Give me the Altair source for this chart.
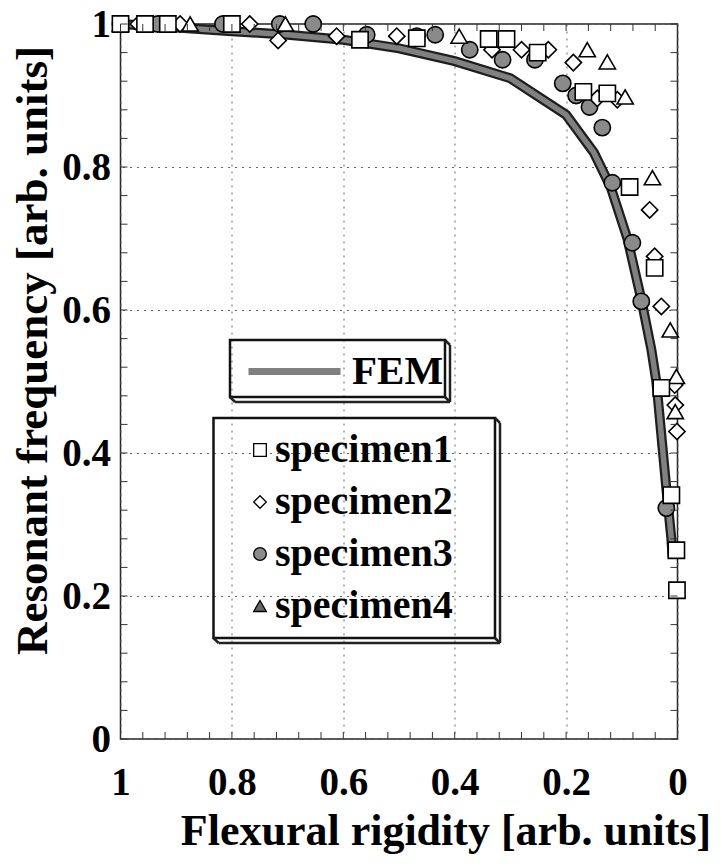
import altair as alt
import pandas as pd

# ---------------- data ----------------
fem_x = [1.0, 0.9, 0.8, 0.7, 0.6, 0.5, 0.4, 0.3, 0.2, 0.15, 0.12, 0.09, 0.065, 0.047, 0.038, 0.02, 0.011, 0.009]
fem_y = [1.0, 0.995, 0.99, 0.985, 0.978, 0.966, 0.948, 0.924, 0.873, 0.82, 0.772, 0.70, 0.615, 0.545, 0.50, 0.35, 0.28, 0.255]

s1_x = [1.0, 0.956, 0.915, 0.80, 0.57, 0.468, 0.339, 0.307, 0.251, 0.169, 0.126, 0.086, 0.041, 0.029, 0.011, 0.002, 0.001]
s1_y = [1.0, 1.0, 1.0, 1.0, 0.978, 0.98, 0.979, 0.979, 0.96, 0.905, 0.903, 0.772, 0.659, 0.491, 0.341, 0.264, 0.208]

s2_x = [0.968, 0.893, 0.768, 0.717, 0.612, 0.504, 0.333, 0.28, 0.232, 0.187, 0.144, 0.108, 0.05, 0.041, 0.029, 0.005, 0.004, 0.001]
s2_y = [1.0, 1.0, 1.0, 0.977, 0.983, 0.983, 0.964, 0.964, 0.964, 0.946, 0.896, 0.894, 0.74, 0.675, 0.605, 0.495, 0.467, 0.43]

s3_x = [1.0, 0.933, 0.816, 0.714, 0.654, 0.558, 0.468, 0.435, 0.373, 0.314, 0.256, 0.206, 0.182, 0.158, 0.135, 0.117, 0.081, 0.065, 0.02]
s3_y = [1.0, 1.0, 1.0, 1.0, 1.0, 0.985, 0.983, 0.985, 0.964, 0.95, 0.95, 0.917, 0.9, 0.884, 0.855, 0.778, 0.694, 0.612, 0.323]

s4_x = [1.0, 0.875, 0.704, 0.392, 0.162, 0.126, 0.094, 0.045, 0.013, 0.002, 0.004]
s4_y = [1.0, 1.0, 1.0, 0.983, 0.964, 0.947, 0.898, 0.785, 0.572, 0.507, 0.458]

specimens = ["specimen1", "specimen2", "specimen3", "specimen4"]
shapes = ["square", "diamond", "circle", "triangle-up"]
plot_fills = ["white", "white", "#8a8a8a", "white"]
legend_fills = ["white", "white", "#8a8a8a", "#666666"]
major_ticks = [0, 0.2, 0.4, 0.6, 0.8, 1.0]
minor_ticks = [0.0, 0.04, 0.08, 0.12, 0.16, 0.2, 0.24, 0.28, 0.32, 0.36, 0.4, 0.44, 0.48,
               0.52, 0.56, 0.6, 0.64, 0.68, 0.72, 0.76, 0.8, 0.84, 0.88, 0.92, 0.96, 1.0]

# ---------------- tables ----------------
fem = pd.DataFrame({"x": fem_x, "y": fem_y, "series": "FEM"})
pts = pd.concat([
    pd.DataFrame({"x": s3_x, "y": s3_y, "specimen": "specimen3"}),
    pd.DataFrame({"x": s2_x, "y": s2_y, "specimen": "specimen2"}),
    pd.DataFrame({"x": s4_x, "y": s4_y, "specimen": "specimen4"}),
    pd.DataFrame({"x": s1_x, "y": s1_y, "specimen": "specimen1"}),
], ignore_index=True)
ticks = pd.DataFrame({"t": minor_ticks})
one = alt.Data(values=[{"k": 0}])

# ---------------- styling ----------------
W, H = 557, 715
FONT = "Liberation Serif"

xs = alt.Scale(domain=[0, 1], reverse=True, nice=False, zero=False)
ys = alt.Scale(domain=[0, 1], nice=False, zero=False)

x_axis = alt.Axis(values=major_ticks, format="~g", grid=True, gridDash=[2, 5], gridColor="#666",
                  gridWidth=1, ticks=False, tickSize=0, domain=False, labelFont=FONT,
                  labelFontSize=39, labelFontWeight="bold", labelColor="black", labelPadding=24,
                  labelFlush=False, title="Flexural rigidity [arb. units]", titleFont=FONT,
                  titleFontSize=44, titleFontWeight="bold", titleColor="black", titleX=325,
                  titleY=105, titleAlign="center", titleBaseline="alphabetic")
y_axis = alt.Axis(values=major_ticks, format="~g", grid=True, gridDash=[2, 5], gridColor="#666",
                  gridWidth=1, ticks=False, tickSize=0, domain=False, labelFont=FONT,
                  labelFontSize=39, labelFontWeight="bold", labelColor="black", labelPadding=10,
                  title="Resonant frequency [arb. units]", titleFont=FONT, titleFontSize=45,
                  titleFontWeight="bold", titleColor="black", titleX=-88, titleY=326,
                  titleAlign="center", titleBaseline="middle", titleAngle=270)

X = alt.X("x:Q", scale=xs, axis=x_axis)
Y = alt.Y("y:Q", scale=ys, axis=y_axis)

fem_legend = alt.Legend(orient="none", legendX=124.5, legendY=298, title=None, padding=0,
                        symbolType="stroke", symbolSize=8464, symbolStrokeWidth=7,
                        labelFont=FONT, labelFontSize=41, labelFontWeight="bold",
                        labelColor="black", labelOffset=8, labelLimit=300)

# ---------------- layers ----------------
fem_outline = alt.Chart(fem).mark_line(color="#1e1e1e", strokeWidth=10).encode(x=X, y=Y)
fem_inner = alt.Chart(fem).mark_line(strokeWidth=5.5).encode(
    x=X, y=Y,
    stroke=alt.Stroke("series:N", scale=alt.Scale(domain=["FEM"], range=["#808080"]), legend=fem_legend),
)

points = alt.Chart(pts).mark_point(filled=True, stroke="black", strokeWidth=1.6, size=265, opacity=1).encode(
    x=X, y=Y,
    shape=alt.Shape("specimen:N", scale=alt.Scale(domain=specimens, range=shapes), legend=None),
    fill=alt.Fill("specimen:N", scale=alt.Scale(domain=specimens, range=plot_fills), legend=None),
)

TX = alt.X("t:Q", scale=xs, axis=x_axis)
TY = alt.Y("t:Q", scale=ys, axis=y_axis)
tick_bottom = alt.Chart(ticks).mark_rule(color="#333", strokeWidth=1).encode(x=TX, y=alt.value(H), y2=alt.value(H - 7))
tick_top = alt.Chart(ticks).mark_rule(color="#333", strokeWidth=1).encode(x=TX, y=alt.value(0), y2=alt.value(7))
tick_left = alt.Chart(ticks).mark_rule(color="#333", strokeWidth=1).encode(y=TY, x=alt.value(0), x2=alt.value(7))
tick_right = alt.Chart(ticks).mark_rule(color="#333", strokeWidth=1).encode(y=TY, x=alt.value(W), x2=alt.value(W - 7))


def framed_box(x1, y1, x2, y2, d=5):
    box = alt.Chart(one).mark_rect(fill="white", fillOpacity=0, stroke="#111", strokeWidth=2.5).encode(
        x=alt.value(x1), x2=alt.value(x2), y=alt.value(y1), y2=alt.value(y2))
    segs = [
        (x1 + d, y2 + d, x2 + d, y2 + d),
        (x2 + d, y1 + d, x2 + d, y2 + d),
        (x2, y1, x2 + d, y1 + d),
        (x1, y2, x1 + d, y2 + d),
        (x2, y2, x2 + d, y2 + d),
    ]
    rules = [alt.Chart(one).mark_rule(color="#222", strokeWidth=2.5).encode(
        x=alt.value(a), y=alt.value(b), x2=alt.value(c), y2=alt.value(e)) for a, b, c, e in segs]
    return [box] + rules


boxes = framed_box(109.5, 316, 324.5, 373) + framed_box(93, 394, 374.5, 614)

# specimen legend entries (symbol + label per row)
legend_layers = []
for i, (name, shp, fc) in enumerate(zip(specimens, shapes, legend_fills)):
    row_y = 426 + 52 * i
    legend_layers.append(
        alt.Chart(one).mark_point(filled=True, shape=shp, fill=fc, stroke="black", strokeWidth=1.3,
                                  size=160, opacity=1).encode(x=alt.value(139.5), y=alt.value(row_y)))
    legend_layers.append(
        alt.Chart(one).mark_text(text=name, font=FONT, fontSize=40, fontWeight="bold", color="black",
                                 align="left", baseline="middle").encode(x=alt.value(154.5), y=alt.value(row_y)))

chart = alt.layer(
    fem_outline, fem_inner, points, tick_bottom, tick_top, tick_left, tick_right, *boxes, *legend_layers
).properties(
    width=W, height=H,
    autosize=alt.AutoSizeParams(type="none"),
    padding={"left": 112.5, "top": 16, "right": 36, "bottom": 115},
    background="white",
).configure_view(stroke="#222", strokeWidth=1.5)

chart.save("out.html", embed_options={"renderer": "svg", "actions": False})
